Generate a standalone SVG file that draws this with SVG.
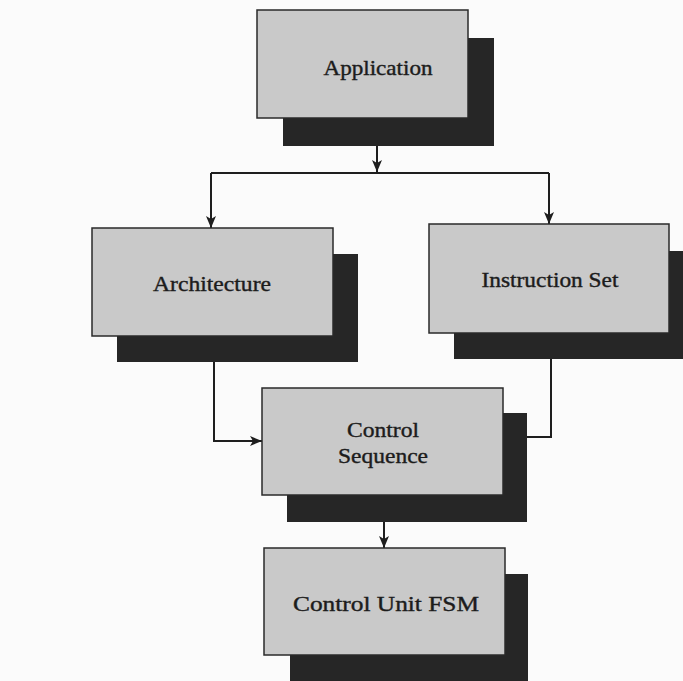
<svg xmlns="http://www.w3.org/2000/svg" width="683" height="681" viewBox="0 0 683 681">
  <style>
    .shadow { fill: #262626; }
    .box { fill: #c9c9c9; stroke: #2a2a2a; stroke-width: 1.5; }
    .label { font-family: "Liberation Serif", "Times New Roman", serif; font-size: 22px; fill: #1c1c1c; stroke: #1c1c1c; stroke-width: 0.4; text-anchor: middle; }
    .wire { fill: none; stroke: #1e1e1e; stroke-width: 2; }
  </style>
  <defs>
    <marker id="arrow" viewBox="0 0 12 10" refX="12" refY="5" markerWidth="12" markerHeight="10" markerUnits="userSpaceOnUse" orient="auto">
      <path d="M0,0 L12,5 L0,10 L3,5 Z" fill="#1e1e1e"/>
    </marker>
  </defs>
  <rect width="683" height="681" fill="#fbfbfb"/>

  <g id="connectors">
    <path class="wire" d="M377,146 V172" marker-end="url(#arrow)"/>
    <path class="wire" d="M211,173 H549"/>
    <path class="wire" d="M211,173 V228" marker-end="url(#arrow)"/>
    <path class="wire" d="M549,173 V224" marker-end="url(#arrow)"/>
    <path class="wire" d="M214,362 V441 H262" marker-end="url(#arrow)"/>
    <path class="wire" d="M551,359 V437 H527"/>
    <path class="wire" d="M384,522 V548" marker-end="url(#arrow)"/>
  </g>

  <g id="application">
    <rect class="shadow" x="283" y="38" width="211" height="108"/>
    <rect class="box" x="257" y="10" width="211" height="108"/>
    <text class="label" x="378" y="75" textLength="109" lengthAdjust="spacingAndGlyphs">Application</text>
  </g>

  <g id="architecture">
    <rect class="shadow" x="117" y="254" width="241" height="108"/>
    <rect class="box" x="92" y="228" width="241" height="108"/>
    <text class="label" x="212" y="291" textLength="118" lengthAdjust="spacingAndGlyphs">Architecture</text>
  </g>

  <g id="instruction-set">
    <rect class="shadow" x="454" y="251" width="229" height="108"/>
    <rect class="box" x="429" y="224" width="240" height="109"/>
    <text class="label" x="550" y="287" textLength="137" lengthAdjust="spacingAndGlyphs">Instruction Set</text>
  </g>

  <g id="control-sequence">
    <rect class="shadow" x="287" y="413" width="240" height="109"/>
    <rect class="box" x="262" y="388" width="241" height="107"/>
    <text class="label" x="383" y="437" textLength="72" lengthAdjust="spacingAndGlyphs">Control</text>
    <text class="label" x="383" y="463" textLength="90" lengthAdjust="spacingAndGlyphs">Sequence</text>
  </g>

  <g id="control-unit-fsm">
    <rect class="shadow" x="290" y="574" width="238" height="107"/>
    <rect class="box" x="264" y="548" width="241" height="107"/>
    <text class="label" x="386" y="611" textLength="186" lengthAdjust="spacingAndGlyphs">Control Unit FSM</text>
  </g>
</svg>
